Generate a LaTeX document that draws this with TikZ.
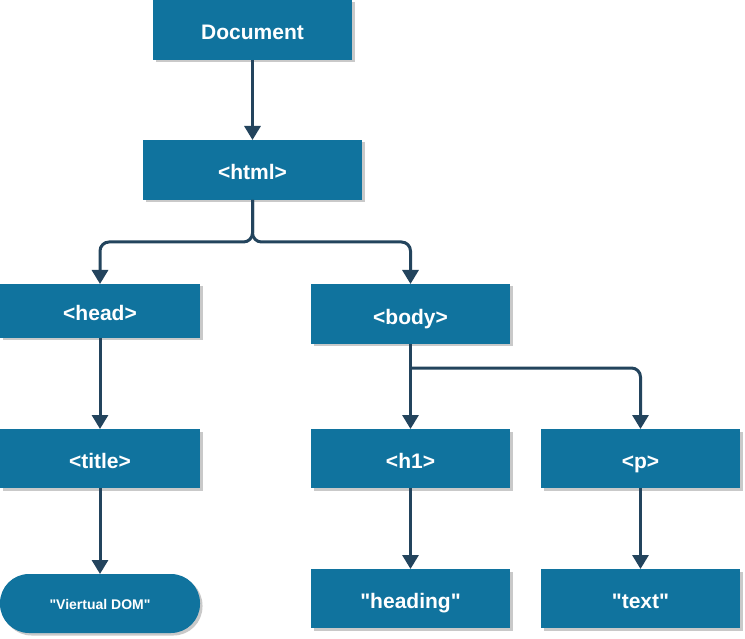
\documentclass[tikz,border=0pt]{standalone}
\usepackage{fontspec}
\setmainfont{Liberation Sans}[Ligatures=TeXOff]
\usetikzlibrary{arrows.meta,shadows}
\definecolor{boxblue}{HTML}{10739E}
\definecolor{linedark}{HTML}{23445D}
\begin{document}
\begin{tikzpicture}[x=1pt,y=-1pt,
  box/.style={rectangle,fill=boxblue,inner sep=0pt,outer sep=0pt,
    text=white,font=\bfseries\fontsize{21}{24}\selectfont,
    text height=20pt,text depth=0pt,
    drop shadow={shadow xshift=2.5pt,shadow yshift=-2.5pt,fill=black!35,opacity=0.6}},
  arrow/.style={draw=linedark,line width=3pt,-{Triangle[width=16pt,length=14pt]}}]
\useasboundingbox (0,0) rectangle (745,639);
\fill[white] (0,0) rectangle (745,639);
\node[box,minimum width=199pt,minimum height=60pt] (doc) at (252.5,30) {Document};
\node[box,minimum width=219pt,minimum height=60pt] (html) at (252.5,170) {<html>};
\node[box,minimum width=200pt,minimum height=54pt] (head) at (100,311) {<head>};
\node[box,minimum width=199pt,minimum height=60pt] (body) at (410.5,314) {<body>};
\node[box,minimum width=200pt,minimum height=59pt] (title) at (100,458.5) {<title>};
\node[box,minimum width=199pt,minimum height=59pt] (h1) at (410.5,458.5) {<h1>};
\node[box,minimum width=199pt,minimum height=59pt] (p) at (640.5,458.5) {<p>};
\node[box,rounded corners=29pt,minimum width=200pt,minimum height=59pt,text height=12pt,text depth=1pt,font=\bfseries\fontsize{14}{16}\selectfont] (vdom) at (100,603.5) {"Viertual DOM"};
\node[box,minimum width=199pt,minimum height=59pt] (heading) at (410.5,598.5) {"heading"};
\node[box,minimum width=199pt,minimum height=59pt] (text) at (640.5,598.5) {"text"};
\coordinate (hj) at (252.5,242);
\coordinate (bj) at (410.5,368);
\draw[arrow] (doc) -- (html);
\draw[arrow,rounded corners=9pt] (html.south) -- (hj) -| (head.north);
\draw[arrow,rounded corners=9pt] (html.south) -- (hj) -| (body.north);
\draw[arrow] (head) -- (title);
\draw[arrow] (title) -- (vdom);
\draw[arrow] (body) -- (h1);
\draw[arrow,rounded corners=9pt] (bj) -| (p.north);
\draw[arrow] (h1) -- (heading);
\draw[arrow] (p) -- (text);
\end{tikzpicture}
\end{document}
